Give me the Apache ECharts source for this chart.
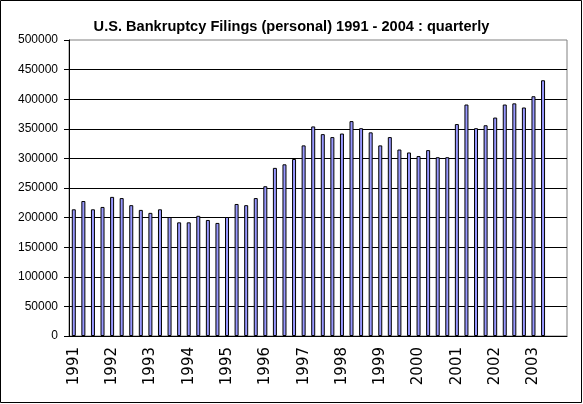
<!DOCTYPE html>
<html>
<head>
<meta charset="utf-8">
<script src="https://cdn.jsdelivr.net/npm/echarts@6/dist/echarts.min.js"></script>
<style>
  html, body { margin: 0; padding: 0; background: #fff; }
  #main { width: 583px; height: 404px; }
</style>
</head>
<body>
<div id="main"></div>
<script>
// quarters 1991 Q1 .. 2003 Q4 (last two quarters have no data)
var years = ['1991','1992','1993','1994','1995','1996','1997','1998','1999','2000','2001','2002','2003'];
var quarters = [];
years.forEach(function (y) {
  for (var q = 1; q <= 4; q++) quarters.push(y + ' Q' + q);
});

// personal filings per quarter
var filings = [
  214000, 228000, 214000, 218000,
  235000, 233000, 221000, 213000,
  208000, 214000, 201000, 192000,
  192000, 203000, 196000, 191000,
  201000, 223000, 221000, 233000,
  253000, 284000, 290000, 299000,
  322000, 354000, 341000, 336000,
  342000, 363000, 351000, 344000,
  322000, 336000, 315000, 310000,
  304000, 314000, 302000, 302000,
  358000, 391000, 351000, 356000,
  369000, 391000, 393000, 386000,
  405000, 432000
];

var myChart = echarts.init(document.getElementById('main'));
var option = {
  backgroundColor: '#fff',
  animation: false,
  title: {
    text: 'U.S. Bankruptcy Filings (personal) 1991 - 2004 : quarterly',
    left: 'center',
    top: 19,
    padding: 0,
    textStyle: {
      color: '#000',
      fontFamily: 'Arial, "Liberation Sans", sans-serif',
      fontWeight: 'bold',
      fontSize: 14.6
    }
  },
  graphic: [{
    type: 'rect',
    shape: { x: 0.5, y: 0.5, width: 581, height: 402 },
    style: { fill: 'none', stroke: '#000', lineWidth: 1 },
    silent: true
  }],
  grid: {
    left: 69,
    right: 16,
    top: 40,
    bottom: 68,
    show: true,
    borderColor: '#808080',
    borderWidth: 1,
    backgroundColor: '#fff'
  },
  xAxis: {
    type: 'category',
    data: quarters,
    boundaryGap: true,
    axisLine: { lineStyle: { color: '#000', width: 1 } },
    axisTick: { interval: 0, length: 5, lineStyle: { color: '#000' } },
    axisLabel: {
      interval: 3,
      rotate: 90,
      margin: 11,
      color: '#000',
      fontFamily: '"DejaVu Sans", sans-serif',
      fontSize: 15,
      formatter: function (v) { return v.slice(0, 4); }
    },
    splitLine: { show: false }
  },
  yAxis: {
    type: 'value',
    min: 0,
    max: 500000,
    interval: 50000,
    axisLine: { show: true, lineStyle: { color: '#000', width: 1 } },
    axisTick: { show: true, length: 5, lineStyle: { color: '#000' } },
    axisLabel: {
      margin: 11,
      color: '#000',
      fontFamily: 'Arial, "Liberation Sans", sans-serif',
      fontSize: 12,
      formatter: function (v) { return String(v); }
    },
    splitLine: { show: true, showMaxLine: false, lineStyle: { color: '#000', width: 1 } }
  },
  series: [{
    name: 'filings',
    type: 'bar',
    data: filings,
    barWidth: 4,
    itemStyle: {
      color: '#9999ff',
      borderColor: '#000',
      borderWidth: 1
    }
  }]
};
myChart.setOption(option);
window.addEventListener('resize', function () {
  myChart.resize();
});
</script>
</body>
</html>
